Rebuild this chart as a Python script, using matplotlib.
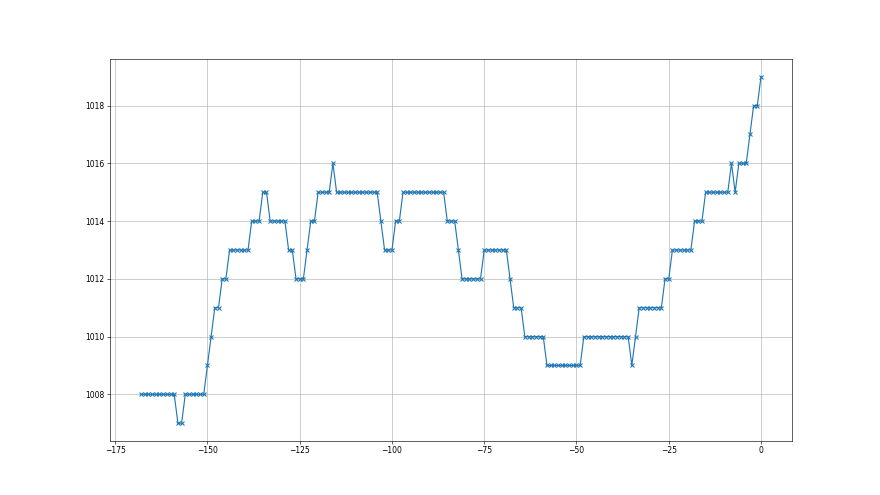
import matplotlib
matplotlib.use("Agg")
import matplotlib.pyplot as plt
import numpy as np

# Pressure readings (hPa), one per hour, as runs of (value, count)
run_values = [1008, 1007, 1008, 1009, 1010, 1011, 1012, 1013, 1014, 1015,
              1014, 1013, 1012, 1013, 1014, 1015, 1016, 1015, 1014, 1013,
              1014, 1015, 1014, 1013, 1012, 1013, 1012, 1011, 1010, 1009,
              1010, 1009, 1010, 1011, 1012, 1013, 1014, 1015, 1016, 1015,
              1016, 1017, 1018, 1019]
run_counts = [10, 2, 6, 1, 1, 2, 2, 6, 3, 2,
              5, 2, 3, 1, 2, 4, 1, 12, 1, 3,
              2, 12, 3, 1, 6, 7, 1, 3, 6, 10,
              13, 1, 1, 7, 2, 6, 3, 7, 1, 1,
              3, 1, 2, 1]

pressure = np.repeat(run_values, run_counts)
hours = np.arange(-(len(pressure) - 1), 1)

fig, ax = plt.subplots(figsize=(16, 9), dpi=55)
ax.plot(hours, pressure, marker="x", markeredgewidth=1.4)
ax.grid(True)
fig.savefig("out.png", dpi=55)
